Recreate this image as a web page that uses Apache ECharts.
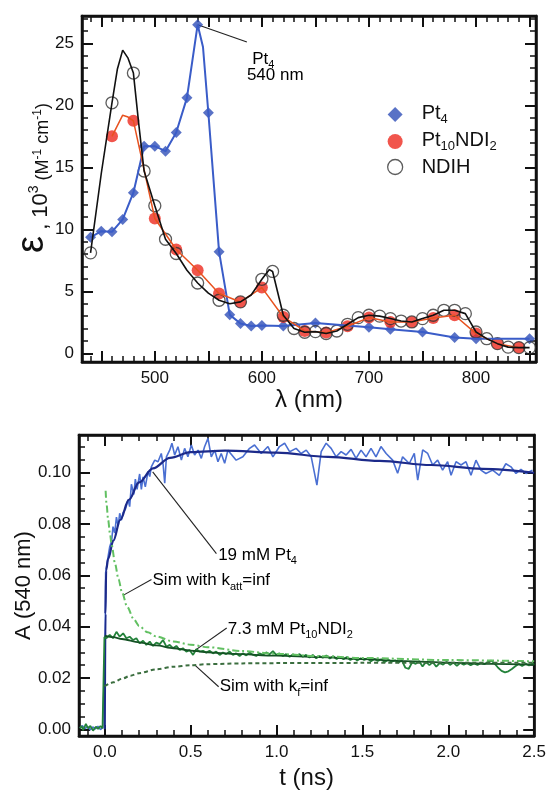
<!DOCTYPE html>
<html lang="en">
<head>
<meta charset="UTF-8">
<title>Pt4 / Pt10NDI2</title>
<script src="https://cdn.jsdelivr.net/npm/echarts@6.0.0/dist/echarts.min.js"></script>
<style>
    html, body { margin: 0; padding: 0; background: #fff; }
    #main { width: 549px; height: 792px; }
</style>
</head>
<body>
<div id="main"></div>
<script>
    // ---------- top panel: extinction spectra, 10^3 M-1 cm-1 vs nm ----------
    var pt4Nm  = [440, 450, 460, 470, 480, 490, 500, 510, 520, 530, 540, 545, 550, 560, 570, 580, 590, 600, 620, 650, 700, 720, 750, 780, 800, 850];
    var pt4Eps = [9.35, 9.85, 9.8, 10.8, 12.95, 16.7, 16.7, 16.3, 17.8, 20.6, 26.5, 24.7, 19.4, 8.2, 3.1, 2.4, 2.2, 2.25, 2.2, 2.45, 2.1, 1.94, 1.72, 1.27, 1.18, 1.18];
    var pt4MarkNm = [440, 450, 460, 470, 480, 490, 500, 510, 520, 530, 540, 550, 560, 570, 580, 590, 600, 620, 650, 700, 720, 750, 780, 800, 850];

    var ptNdiNm  = [460, 470, 475, 480, 500, 520, 540, 560, 580, 600, 620, 640, 660, 680, 700, 720, 740, 760, 780, 800, 820, 840];
    var ptNdiEps = [17.5, 19.2, 19.05, 18.75, 10.87, 8.37, 6.7, 4.82, 4.14, 5.3, 2.93, 1.8, 1.67, 2.18, 2.88, 2.53, 2.53, 2.85, 3.07, 1.59, 0.78, 0.46];
    var ptNdiMarkNm = [460, 480, 500, 520, 540, 560, 580, 600, 620, 640, 660, 680, 700, 720, 740, 760, 780, 800, 820, 840];

    var ndihNm  = [440, 450, 460, 465, 470, 475, 480, 485, 490, 500, 510, 520, 530, 540, 550, 560, 570, 580, 590, 600, 607, 610, 620, 630, 640, 650, 660, 670, 680, 690, 700, 710, 720, 730, 740, 750, 760, 770, 780, 790, 800, 810, 820, 830, 840, 850];
    var ndihEps = [8.1, 14.5, 20.2, 22.9, 24.45, 23.8, 22.6, 18.5, 14.7, 11.9, 9.2, 8.05, 6.7, 5.67, 4.85, 4.28, 4.0, 4.15, 4.7, 5.97, 6.75, 6.6, 3.07, 2.0, 1.7, 1.75, 1.6, 1.8, 2.34, 2.88, 3.07, 3.0, 2.8, 2.6, 2.53, 2.8, 3.07, 3.47, 3.47, 3.2, 1.72, 1.18, 0.78, 0.5, 0.46, 0.46];
    var ndihMarkNm = [440, 460, 480, 490, 500, 510, 520, 540, 560, 580, 600, 610, 620, 630, 640, 650, 660, 670, 680, 690, 700, 710, 720, 730, 740, 750, 760, 770, 780, 790, 800, 810, 820, 830, 840, 850];

    var topXLabels = [500, 600, 700, 800];
    var topYLabels = [0, 5, 10, 15, 20, 25];

    // ---------- bottom panel: A(540 nm) vs t (ns), [t, A] ----------
    var pt4Trace = [
        [-0.145, 0.0006], [-0.13, 0.0014], [-0.115, 0.0003], [-0.1, 0.0011], [-0.085, -0.0002], [-0.07, 0.0009],
        [-0.055, 0.0002], [-0.04, 0.0012], [-0.025, -0.0001], [-0.012, 0.0007], [-0.002, 0.0003],
        [0.002, 0.032], [0.005, 0.061], [0.015, 0.0655], [0.029, 0.0712], [0.04, 0.0735], [0.048, 0.079],
        [0.058, 0.0765], [0.068, 0.0827], [0.078, 0.0792], [0.087, 0.0842], [0.097, 0.0815], [0.107, 0.0845],
        [0.12, 0.0858], [0.136, 0.0895], [0.145, 0.0868], [0.155, 0.0955], [0.169, 0.0915], [0.178, 0.0975],
        [0.188, 0.0935], [0.203, 0.0995], [0.213, 0.0935], [0.223, 0.0984], [0.236, 0.0945], [0.252, 0.1005],
        [0.262, 0.0985], [0.271, 0.1023], [0.291, 0.1049], [0.31, 0.1043], [0.329, 0.1075], [0.34, 0.103],
        [0.349, 0.0959], [0.359, 0.1062], [0.378, 0.1088], [0.391, 0.1115], [0.407, 0.1069], [0.426, 0.1101],
        [0.446, 0.1049], [0.465, 0.1095], [0.484, 0.1062], [0.504, 0.1108], [0.523, 0.1069], [0.543, 0.1088],
        [0.562, 0.1056], [0.581, 0.1101], [0.601, 0.1134], [0.62, 0.1062], [0.64, 0.1088], [0.659, 0.1043],
        [0.678, 0.1075], [0.698, 0.1037], [0.717, 0.1088], [0.765, 0.1049], [0.804, 0.1062], [0.843, 0.1095],
        [0.872, 0.1108], [0.911, 0.1075], [0.95, 0.1102], [0.979, 0.1062], [1.017, 0.1102], [1.047, 0.1115],
        [1.076, 0.1082], [1.114, 0.1095], [1.143, 0.1075], [1.173, 0.1088], [1.202, 0.1062], [1.235, 0.0952],
        [1.26, 0.1082], [1.289, 0.1115], [1.318, 0.1095], [1.347, 0.1062], [1.376, 0.1082], [1.405, 0.1069],
        [1.434, 0.1091], [1.463, 0.1056], [1.492, 0.1088], [1.521, 0.1062], [1.55, 0.1095], [1.579, 0.1062],
        [1.608, 0.1102], [1.638, 0.1075], [1.676, 0.1049], [1.705, 0.0998], [1.734, 0.1062], [1.773, 0.1036],
        [1.802, 0.1075], [1.822, 0.0971], [1.851, 0.1089], [1.88, 0.1075], [1.909, 0.103], [1.938, 0.1049],
        [1.967, 0.101], [1.996, 0.1043], [2.016, 0.099], [2.045, 0.1043], [2.074, 0.103], [2.103, 0.1043],
        [2.132, 0.099], [2.161, 0.1049], [2.19, 0.101], [2.219, 0.0997], [2.258, 0.101], [2.297, 0.099],
        [2.335, 0.1035], [2.365, 0.1023], [2.394, 0.0997], [2.423, 0.1013], [2.452, 0.0997], [2.49, 0.101]
    ];
    var pt4Fit = [
        [0, 0], [0.004, 0.045], [0.008, 0.062], [0.02, 0.0665], [0.05, 0.0735], [0.09, 0.0816], [0.14, 0.0894],
        [0.2, 0.0962], [0.28, 0.1017], [0.38, 0.1058], [0.5, 0.108], [0.7, 0.1086], [1.0, 0.1078], [1.3, 0.1062],
        [1.6, 0.1046], [1.9, 0.103], [2.2, 0.1015], [2.5, 0.1]
    ];
    var ndiTrace = [
        [-0.145, 0.0004], [-0.135, 0.0013], [-0.126, -0.0003], [-0.118, 0.0009], [-0.11, 0.0021], [-0.097, 0.0004],
        [-0.084, 0.0013], [-0.068, -0.0005], [-0.052, 0.001], [-0.039, 0.0002], [-0.025, 0.0013], [-0.013, 0.0004],
        [-0.004, 0.0002], [-0.002, 0.036], [0.01, 0.0355], [0.029, 0.0368], [0.048, 0.0355], [0.068, 0.038],
        [0.087, 0.0361], [0.107, 0.0374], [0.126, 0.0355], [0.145, 0.0361], [0.165, 0.0348], [0.184, 0.0355],
        [0.203, 0.0335], [0.223, 0.0345], [0.242, 0.0329], [0.262, 0.0342], [0.281, 0.0325], [0.3, 0.0338],
        [0.32, 0.0332], [0.339, 0.0348], [0.359, 0.0322], [0.378, 0.0329], [0.397, 0.0316], [0.417, 0.0325],
        [0.436, 0.0309], [0.455, 0.0316], [0.475, 0.0303], [0.494, 0.0309], [0.514, 0.029], [0.533, 0.0312],
        [0.552, 0.0303], [0.572, 0.0306], [0.591, 0.0299], [0.61, 0.0306], [0.63, 0.0296], [0.649, 0.0303],
        [0.669, 0.029], [0.688, 0.0299], [0.707, 0.0293], [0.727, 0.0303], [0.746, 0.029], [0.765, 0.0296],
        [0.785, 0.0286], [0.804, 0.0296], [0.824, 0.0288], [0.843, 0.0299], [0.862, 0.0291], [0.882, 0.0286],
        [0.901, 0.0296], [0.92, 0.029], [0.94, 0.03], [0.959, 0.0292], [0.979, 0.0305], [0.998, 0.029],
        [1.017, 0.0296], [1.037, 0.0286], [1.056, 0.0293], [1.076, 0.0283], [1.095, 0.0292], [1.114, 0.0286],
        [1.134, 0.0293], [1.153, 0.0283], [1.172, 0.029], [1.192, 0.028], [1.211, 0.029], [1.231, 0.0277],
        [1.25, 0.0286], [1.269, 0.0279], [1.29, 0.0288], [1.31, 0.0276], [1.33, 0.0285], [1.35, 0.0274],
        [1.37, 0.0283], [1.39, 0.0273], [1.41, 0.0282], [1.43, 0.027], [1.45, 0.0279], [1.47, 0.0268],
        [1.49, 0.0277], [1.51, 0.027], [1.53, 0.0276], [1.55, 0.0265], [1.57, 0.0274], [1.59, 0.0266],
        [1.61, 0.0273], [1.63, 0.0262], [1.65, 0.0271], [1.67, 0.0264], [1.69, 0.0269], [1.71, 0.0261],
        [1.73, 0.0268], [1.75, 0.024], [1.77, 0.0236], [1.79, 0.0262], [1.81, 0.0255], [1.83, 0.0266],
        [1.85, 0.0245], [1.87, 0.0263], [1.89, 0.025], [1.91, 0.0262], [1.93, 0.0244], [1.95, 0.0258],
        [1.97, 0.0252], [1.99, 0.0263], [2.01, 0.0251], [2.03, 0.026], [2.05, 0.0247], [2.07, 0.0259],
        [2.09, 0.0252], [2.11, 0.0258], [2.13, 0.025], [2.15, 0.0257], [2.17, 0.0251], [2.19, 0.0259],
        [2.21, 0.0254], [2.23, 0.0262], [2.25, 0.0268], [2.27, 0.0256], [2.29, 0.024], [2.31, 0.0228],
        [2.33, 0.0222], [2.35, 0.0226], [2.37, 0.0235], [2.39, 0.0246], [2.41, 0.0255], [2.43, 0.0247],
        [2.45, 0.0256], [2.47, 0.0249], [2.49, 0.0257], [2.5, 0.0252]
    ];
    var ndiFit = [
        [0, 0.0365], [0.05, 0.0359], [0.1, 0.0352], [0.2, 0.0339], [0.3, 0.0327], [0.4, 0.0316], [0.5, 0.0307],
        [0.6, 0.03], [0.75, 0.0294], [1.0, 0.0287], [1.25, 0.0281], [1.5, 0.0274], [1.75, 0.0266], [2.0, 0.026],
        [2.25, 0.0255], [2.5, 0.0252]
    ];
    var simKatt = [
        [0.005, 0.093], [0.01, 0.088], [0.02, 0.0815], [0.03, 0.0765], [0.04, 0.072], [0.06, 0.0645], [0.08, 0.0585],
        [0.1, 0.0535], [0.13, 0.0478], [0.17, 0.0428], [0.2, 0.0403], [0.25, 0.0378], [0.3, 0.0362], [0.4, 0.0342],
        [0.5, 0.033], [0.6, 0.032], [0.8, 0.0305], [1.0, 0.0294], [1.25, 0.0285], [1.5, 0.0278], [2.0, 0.027], [2.5, 0.0265]
    ];
    var simKf = [
        [0.0, 0.0168], [0.05, 0.0183], [0.1, 0.0197], [0.15, 0.0209], [0.2, 0.0219], [0.3, 0.0234], [0.4, 0.0244],
        [0.5, 0.025], [0.6, 0.0254], [0.8, 0.0257], [1.0, 0.0258], [1.5, 0.0259], [2.0, 0.0259], [2.5, 0.0259]
    ];

    var botXLabels = [0, 0.5, 1.0, 1.5, 2.0, 2.5];
    var botYLabels = [0, 0.02, 0.04, 0.06, 0.08, 0.10];

    // ---------- helpers ----------
    var FONT = '"Liberation Sans", Arial, Helvetica, sans-serif';
    var INK = '#111';

    function pairs(xs, ys) {
        return xs.map(function (x, i) { return [x, ys[i]]; });
    }
    function pick(xs, ys, keep) {
        return pairs(xs, ys).filter(function (p) { return keep.indexOf(p[0]) >= 0; });
    }
    function steps(a, b, n, d) {      // a..b in n steps, rounded to d decimals
        var out = [];
        for (var i = 0; i <= n; i++) out.push(+(a + (b - a) * i / n).toFixed(d));
        return out;
    }

    // rich text: n = normal, s = subscript
    function rich(size) {
        var sub = Math.round(size * 0.65);
        return {
            n: {fontSize: size, fontFamily: FONT, color: INK, verticalAlign: 'top'},
            s: {fontSize: sub, fontFamily: FONT, color: INK, verticalAlign: 'top', padding: [Math.round(size * 0.5), 0, 0, 0]},
            g: {width: 14}
        };
    }

    // each side of a frame gets two axes: long ticks and short ticks
    function sideAxes(grid, pos, min, max, major, minor, labels, fmt, extra) {
        var base = {type: 'value', gridIndex: grid, position: pos, min: min, max: max,
            splitLine: {show: false}, axisLine: {show: false, onZero: false}};
        var a = Object.assign({}, base, {
            axisLine: {show: true, onZero: false, lineStyle: {color: INK, width: 2.5}},
            axisTick: {show: true, inside: true, length: 11, customValues: major, lineStyle: {color: INK, width: 2}},
            axisLabel: labels ? {show: true, customValues: labels, formatter: fmt, fontSize: 17, color: INK,
                fontFamily: FONT, margin: 8} : {show: false}
        }, extra || {});
        var b = Object.assign({}, base, {
            axisTick: {show: true, inside: true, length: 6, customValues: minor, lineStyle: {color: INK, width: 1.5}},
            axisLabel: {show: false}
        });
        return [a, b];
    }

    var topX = [432, 856], topY = [-0.7, 27.2];
    var botX = [-0.15, 2.5], botY = [-0.0026, 0.1147];

    var topXMajor = steps(450, 850, 8, 0), topXMinor = steps(440, 850, 41, 0);
    var topYMajor = steps(0, 25, 5, 0), topYMinor = steps(0, 27, 27, 0);
    var botXMajor = steps(0, 2.5, 5, 1), botXMinor = steps(-0.1, 2.5, 26, 1);
    var botYMajor = steps(0, 0.1, 5, 2), botYMinor = steps(0, 0.11, 22, 3);

    var xAxes = [].concat(
        sideAxes(0, 'bottom', topX[0], topX[1], topXMajor, topXMinor, topXLabels, function (v) { return String(v); }, {
            name: 'λ (nm)', nameLocation: 'middle', nameGap: 26, nameMoveOverlap: false,
            nameTextStyle: {fontSize: 24, color: INK, fontFamily: FONT}
        }),
        sideAxes(0, 'top', topX[0], topX[1], topXMajor, topXMinor),
        sideAxes(1, 'bottom', botX[0], botX[1], botXMajor, botXMinor, botXLabels, function (v) { return v.toFixed(1); }, {
            name: 't (ns)', nameLocation: 'middle', nameGap: 30, nameMoveOverlap: false,
            nameTextStyle: {fontSize: 24, color: INK, fontFamily: FONT}
        }),
        sideAxes(1, 'top', botX[0], botX[1], botXMajor, botXMinor)
    );
    var yAxes = [].concat(
        sideAxes(0, 'left', topY[0], topY[1], topYMajor, topYMinor, topYLabels, function (v) { return String(v); }, {
            name: '{w| }{e|ε}{a| , 10}{p|3}{b| (M}{q|-1}{b| cm}{q|-1}{b|)}', nameLocation: 'middle', nameGap: 30,
            nameRotate: 90, nameMoveOverlap: false,
            nameTextStyle: {
                color: INK, fontFamily: FONT,
                rich: {
                    w: {width: 22},
                    e: {fontSize: 38, fontFamily: FONT, color: INK, verticalAlign: 'bottom'},
                    a: {fontSize: 22, fontFamily: FONT, color: INK, verticalAlign: 'bottom'},
                    b: {fontSize: 18, fontFamily: FONT, color: INK, verticalAlign: 'bottom'},
                    p: {fontSize: 14, fontFamily: FONT, color: INK, verticalAlign: 'bottom', padding: [0, 0, 11, 0]},
                    q: {fontSize: 12, fontFamily: FONT, color: INK, verticalAlign: 'bottom', padding: [0, 0, 8, 0]}
                }
            }
        }),
        sideAxes(0, 'right', topY[0], topY[1], topYMajor, topYMinor),
        sideAxes(1, 'left', botY[0], botY[1], botYMajor, botYMinor, botYLabels, function (v) { return v.toFixed(2); }, {
            name: 'A (540 nm)', nameLocation: 'middle', nameGap: 44, nameRotate: 90, nameMoveOverlap: false,
            nameTextStyle: {fontSize: 22, color: INK, fontFamily: FONT}
        }),
        sideAxes(1, 'right', botY[0], botY[1], botYMajor, botYMinor)
    );

    function line(name, data, ax, color, width, extra) {
        return Object.assign({
            name: name, type: 'line', data: data, xAxisIndex: ax, yAxisIndex: ax,
            symbol: 'none', silent: true,
            lineStyle: {color: color, width: width}
        }, extra || {});
    }
    function dots(name, data, symbol, size, style) {
        return {name: name, type: 'scatter', data: data, xAxisIndex: 0, yAxisIndex: 0,
            symbol: symbol, symbolSize: size, itemStyle: style, silent: true};
    }

    var BLUE = '#2f4fb8', RED = '#ee2b1f';
    var legendNames = {
        'Pt4': '{g| }{n|Pt}{s|4}',
        'Pt10NDI2': '{g| }{n|Pt}{s|10}{n|NDI}{s|2}',
        'NDIH': '{g| }{n|NDIH}'
    };

    var myChart = echarts.init(document.getElementById('main'));
    var option = {
        animation: false,
        grid: [
            {left: 82, right: 13, top: 16, height: 346, show: true, borderColor: INK, borderWidth: 2.5},
            {left: 79, right: 14, top: 435, height: 301, show: true, borderColor: INK, borderWidth: 2.5}
        ],
        xAxis: xAxes,
        yAxis: yAxes,
        legend: {
            orient: 'vertical', left: 382, top: 98, itemWidth: 15, itemHeight: 15, itemGap: 4,
            selectedMode: false,
            data: [
                {name: 'Pt4', icon: 'diamond'},
                {name: 'Pt10NDI2', icon: 'circle'},
                {name: 'NDIH', icon: 'circle', itemStyle: {color: '#fff', borderColor: '#333', borderWidth: 1.3}}
            ],
            formatter: function (n) { return legendNames[n]; },
            textStyle: {rich: rich(20)}
        },
        series: [
            line('Pt4 line', pairs(pt4Nm, pt4Eps), 0, '#3a5cc8', 2),
            dots('Pt4', pick(pt4Nm, pt4Eps, pt4MarkNm), 'diamond', 11, {color: BLUE}),
            line('Pt10NDI2 line', pairs(ptNdiNm, ptNdiEps), 0, '#e8521f', 1.5),
            dots('Pt10NDI2', pick(ptNdiNm, ptNdiEps, ptNdiMarkNm), 'circle', 12, {color: RED}),
            line('NDIH line', pairs(ndihNm, ndihEps), 0, '#111', 1.6),
            dots('NDIH', pick(ndihNm, ndihEps, ndihMarkNm), 'circle', 12,
                {color: 'rgba(255,255,255,0)', borderColor: '#333', borderWidth: 1.3}),

            line('19 mM Pt4', pt4Trace, 4, '#4a6fd2', 1.6),
            line('Pt4 fit', pt4Fit, 4, '#1c2a8a', 2.2, {smooth: 0.35, smoothMonotone: 'x'}),
            line('7.3 mM Pt10NDI2', ndiTrace, 4, '#23823a', 1.8),
            line('Pt10NDI2 fit', ndiFit, 4, '#145224', 1.8, {smooth: 0.3, smoothMonotone: 'x'}),
            line('Sim katt=inf', simKatt, 4, '#62c062', 2, {smooth: 0.3, smoothMonotone: 'x',
                lineStyle: {color: '#62c062', width: 2, type: [7, 3, 2, 3]}}),
            line('Sim kf=inf', simKf, 4, '#3b6e3f', 2, {smooth: 0.3, smoothMonotone: 'x',
                lineStyle: {color: '#3b6e3f', width: 2, type: [4, 3]}})
        ]
    };
    myChart.setOption(option);

    // ---------- callouts, anchored in data coordinates ----------
    var callouts = [
        {ax: 0, from: [540, 26.5], to: [586, 25.1], texts: [
            {at: [591, 23.6], text: '{n|Pt}{s|4}'},
            {at: [586, 22.4], text: '{n|540 nm}'}
        ]},
        {ax: 4, from: [0.279, 0.1003], to: [0.65, 0.0685], texts: [{at: [0.66, 0.0672], text: '{n|19 mM Pt}{s|4}'}]},
        {ax: 4, from: [0.109, 0.0523], to: [0.272, 0.0584], texts: [{at: [0.278, 0.0574], text: '{n|Sim with k}{s|att}{n|=inf}'}]},
        {ax: 4, from: [0.513, 0.0302], to: [0.71, 0.0395], texts: [{at: [0.716, 0.0385], text: '{n|7.3 mM Pt}{s|10}{n|NDI}{s|2}'}]},
        {ax: 4, from: [0.523, 0.0251], to: [0.663, 0.0166], texts: [{at: [0.669, 0.016], text: '{n|Sim with k}{s|f}{n|=inf}'}]}
    ];

    var graphics = [];
    callouts.forEach(function (c) {
        var finder = {xAxisIndex: c.ax, yAxisIndex: c.ax};
        var p0 = myChart.convertToPixel(finder, c.from);
        var p1 = myChart.convertToPixel(finder, c.to);
        graphics.push({type: 'line', silent: true,
            shape: {x1: p0[0], y1: p0[1], x2: p1[0], y2: p1[1]},
            style: {stroke: '#222', lineWidth: 1.1}});
        c.texts.forEach(function (t) {
            var p = myChart.convertToPixel(finder, t.at);
            graphics.push({type: 'text', silent: true, x: p[0], y: p[1],
                style: {text: t.text, rich: rich(17), align: 'left', verticalAlign: 'middle'}});
        });
    });
    myChart.setOption({graphic: graphics});
</script>
</body>
</html>
